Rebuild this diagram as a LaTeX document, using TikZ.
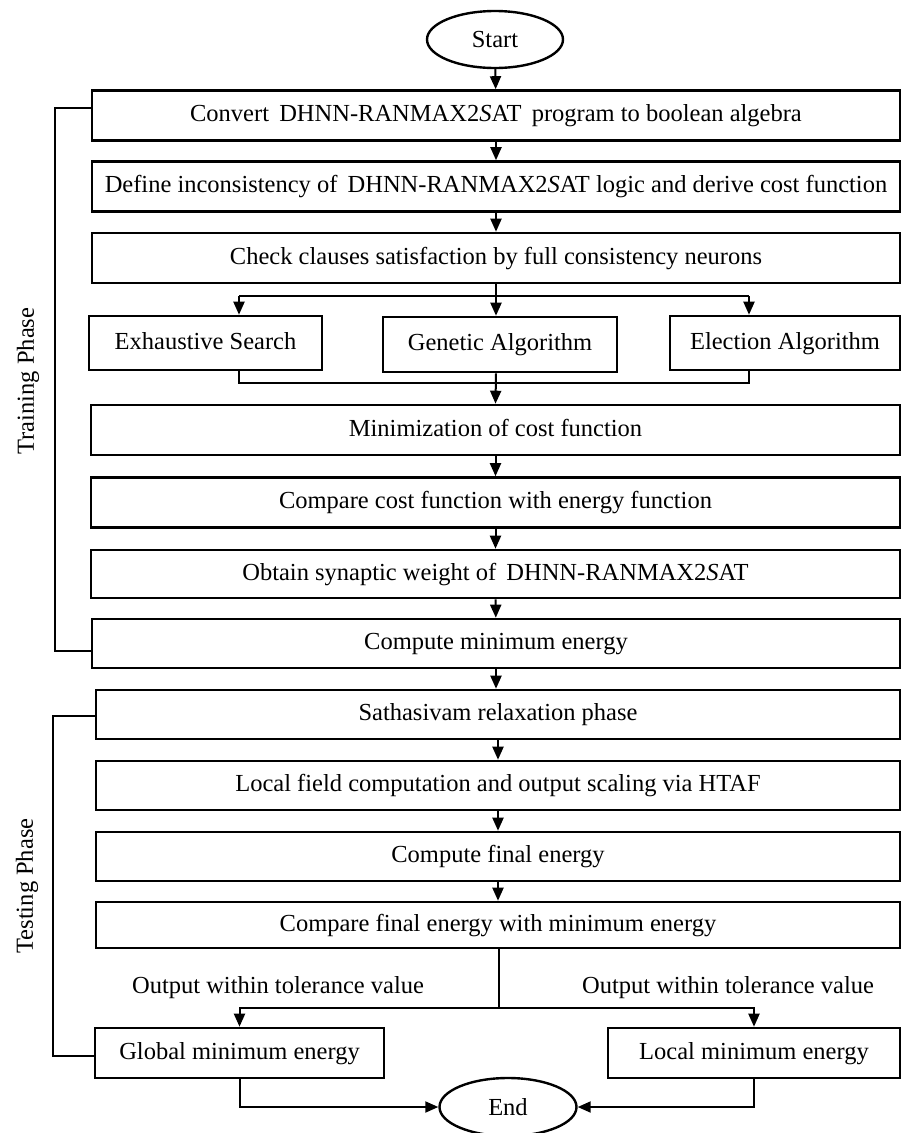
\documentclass[tikz,border=0pt]{standalone}
\usepackage{fontspec}
\setmainfont{Liberation Serif}
\usetikzlibrary{shapes.geometric,arrows.meta}

\begin{document}
\begin{tikzpicture}[x=1pt,y=-1pt,
    font=\fontsize{24.5}{29}\selectfont,
    every path/.style={line width=2pt},
    flowbox/.style={draw,line width=2.6pt,rectangle,inner sep=0pt,minimum height=50pt,
      text height=17pt,text depth=5pt},
    mainbox/.style={flowbox,minimum width=808pt},
    endpoint/.style={draw,line width=2.4pt,ellipse,inner sep=0pt,minimum width=136pt,minimum height=57pt},
    flow/.style={-{Triangle[length=13pt,width=11pt]}},
    phase/.style={rotate=90,inner sep=0pt}]
    \useasboundingbox (0,0) rectangle (902,1133);

    \node[endpoint] (start) at (495,39.5) {Start};
    \node[mainbox] (convert) at (496,115.5) {Convert\, DHNN-RANMAX2\textit{S}AT\, program to boolean algebra};
    \node[mainbox] (define) at (496,186.5) {Define inconsistency of\, DHNN-RANMAX2\textit{S}AT logic and derive cost function};
    \node[mainbox] (check) at (496,258) {Check clauses satisfaction by full consistency neurons};
    \node[flowbox,minimum width=233pt,minimum height=54pt] (es) at (205.5,343) {Exhaustive Search};
    \node[flowbox,minimum width=234pt,minimum height=55pt] (ga) at (500,344.5) {Genetic Algorithm};
    \node[flowbox,minimum width=230pt,minimum height=54pt] (ea) at (785,343) {Election Algorithm};
    \node[mainbox,minimum width=809pt] (mincost) at (495.5,430) {Minimization of cost function};
    \node[mainbox,minimum width=809pt] (compcost) at (495.5,502.5) {Compare cost function with energy function};
    \node[mainbox,minimum width=809pt,minimum height=48pt] (weight) at (495.5,574) {Obtain synaptic weight of\, DHNN-RANMAX2\textit{S}AT};
    \node[mainbox,minimum height=49pt] (minen) at (496,643.5) {Compute minimum energy};
    \node[mainbox,minimum width=804pt,minimum height=49pt] (relax) at (498,714.5) {Sathasivam relaxation phase};
    \node[mainbox,minimum width=804pt,minimum height=49pt] (field) at (498,785.5) {Local field computation and output scaling via HTAF};
    \node[mainbox,minimum width=804pt,minimum height=49pt] (finen) at (498,856.5) {Compute final energy};
    \node[mainbox,minimum width=804pt,minimum height=46pt] (compfin) at (498,925) {Compare final energy with minimum energy};
    \node[flowbox,minimum width=289pt] (global) at (239.5,1053) {Global minimum energy};
    \node[flowbox,minimum width=292pt] (local) at (754,1053) {Local minimum energy};
    \node[endpoint,minimum width=137pt,minimum height=58pt] (end) at (508,1107) {End};

    \node[phase] (train) at (28,381) {Training Phase};
    \node[phase] (test) at (27,886) {Testing Phase};
    \node (tolleft) at (278,988) {Output within tolerance value};
    \node (tolright) at (728,988) {Output within tolerance value};

    \coordinate (split) at (496,296);
    \coordinate (sl) at (239,296);
    \coordinate (sr) at (749,296);
    \coordinate (join) at (496,383);
    \coordinate (split2) at (499,1008);
    \coordinate (trtop) at (55,108);
    \coordinate (trbot) at (55,651);
    \coordinate (tetop) at (53,716);
    \coordinate (tebot) at (53,1056);

    \draw[flow] (start) -- (convert);
    \draw[flow] (convert) -- (define);
    \draw[flow] (define) -- (check);
    \draw (check.south) -- (split);
    \draw (sl) -- (sr);
    \draw[flow] (sl) -- (sl |- es.north);
    \draw[flow] (split) -- (split |- ga.north);
    \draw[flow] (sr) -- (sr |- ea.north);
    \draw (sl |- es.south) |- (join) -| (sr |- ea.south);
    \draw[flow] (join |- ga.south) -- (mincost.north);
    \draw[flow] (mincost) -- (compcost);
    \draw[flow] (compcost) -- (weight);
    \draw[flow] (weight) -- (minen);
    \draw[flow] (minen.south) -- (minen.south |- relax.north);
    \draw[flow] (relax) -- (field);
    \draw[flow] (field) -- (finen);
    \draw[flow] (finen) -- (compfin);
    \draw (compfin.south -| split2) -- (split2);
    \draw[flow] (split2) -| (global.north);
    \draw[flow] (split2) -| (local.north);
    \draw[flow] (global.south) |- (end.west);
    \draw[flow] (local.south) |- (end.east);

    \draw (trtop -| convert.west) -- (trtop) -- (trbot) -- (trbot -| minen.west);
    \draw (tetop -| relax.west) -- (tetop) -- (tebot) -- (tebot -| global.west);
\end{tikzpicture}
\end{document}
